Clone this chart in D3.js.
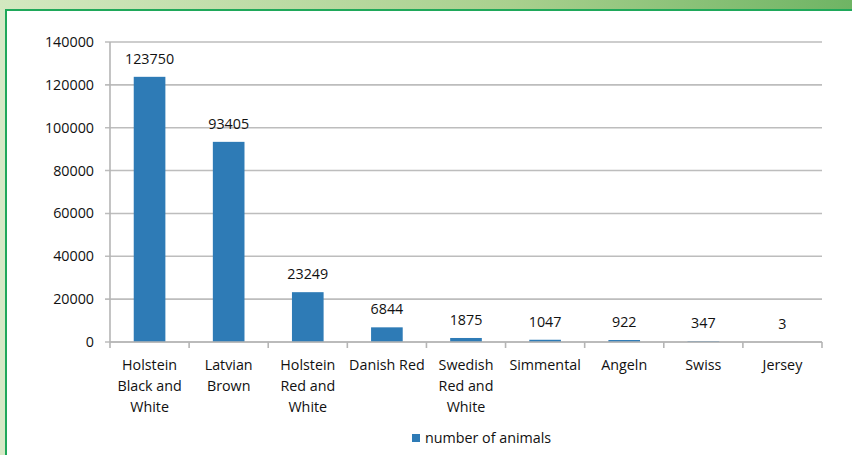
<!DOCTYPE html>
<html><head><meta charset="utf-8">
<script src="https://cdn.jsdelivr.net/npm/d3@7/dist/d3.min.js"></script>
<style>
html,body{margin:0;padding:0;background:#d6e9c6;}
svg{display:block;}
text{font-family:"Open Sans",sans-serif;fill:#111;}
</style></head>
<body>
<svg id="c" width="852" height="455"></svg>
<script>
const categories = [
  ["Holstein","Black and","White"],
  ["Latvian","Brown"],
  ["Holstein","Red and","White"],
  ["Danish Red"],
  ["Swedish","Red and","White"],
  ["Simmental"],
  ["Angeln"],
  ["Swiss"],
  ["Jersey"]
];
const values = [123750, 93405, 23249, 6844, 1875, 1047, 922, 347, 3];
const yTicks = [0, 20000, 40000, 60000, 80000, 100000, 120000, 140000];
const seriesName = "number of animals";

const svg = d3.select("#c");
const W = 852, H = 455;
const FS = "14.3px";

// frame
const defs = svg.append("defs");
const g1 = defs.append("linearGradient").attr("id","topg").attr("x1","0").attr("x2","1");
g1.append("stop").attr("offset","0").attr("stop-color","#d3e8c0");
g1.append("stop").attr("offset","0.6").attr("stop-color","#a9d08e");
g1.append("stop").attr("offset","1").attr("stop-color","#6fb464");
svg.append("rect").attr("x",0).attr("y",0).attr("width",W).attr("height",H).attr("fill","#d6e9c6");
svg.append("rect").attr("x",0).attr("y",0).attr("width",W).attr("height",10).attr("fill","url(#topg)");
svg.append("rect").attr("x",6).attr("y",10).attr("width",W).attr("height",H).attr("fill","#ffffff")
  .attr("stroke","#1fa85a").attr("stroke-width",2);

const x0 = 110, x1 = 822, yTop = 42, yBot = 342;
const x = d3.scaleBand().domain(d3.range(categories.length)).range([x0, x1])
  .paddingInner(0.6).paddingOuter(0.3);
const y = d3.scaleLinear().domain([0, 140000]).range([yBot, yTop]);

// gridlines
svg.append("g").selectAll("line").data(yTicks).join("line")
  .attr("x1", x0 - 5).attr("x2", x1)
  .attr("y1", d => y(d)).attr("y2", d => y(d))
  .attr("stroke", "#bdbdbd").attr("stroke-width", 1.6);

// y axis line
svg.append("line").attr("x1",x0).attr("x2",x0).attr("y1",yTop).attr("y2",yBot)
  .attr("stroke","#b5b5b5").attr("stroke-width",1.6);

// y labels
svg.append("g").selectAll("text").data(yTicks).join("text")
  .attr("x", 94).attr("y", d => y(d)).attr("dy","0.35em")
  .attr("text-anchor","end").attr("font-size",FS)
  .text(d => d);

// bars
svg.append("g").selectAll("rect").data(values).join("rect")
  .attr("x", (d,i) => x(i)).attr("width", x.bandwidth())
  .attr("y", d => y(d)).attr("height", d => yBot - y(d))
  .attr("fill", "#2e7bb6");

// x axis line + ticks
svg.append("line").attr("x1",x0).attr("x2",x1).attr("y1",yBot).attr("y2",yBot)
  .attr("stroke","#b5b5b5").attr("stroke-width",1.6);
const step = x.step();
svg.append("g").selectAll("line").data(d3.range(categories.length + 1)).join("line")
  .attr("x1", i => x0 + i*step).attr("x2", i => x0 + i*step)
  .attr("y1", yBot).attr("y2", yBot + 6)
  .attr("stroke","#b5b5b5").attr("stroke-width",1.6);

// value labels
svg.append("g").selectAll("text").data(values).join("text")
  .attr("x", (d,i) => x(i) + x.bandwidth()/2)
  .attr("y", d => y(d) - 13)
  .attr("text-anchor","middle").attr("font-size",FS)
  .text(d => d);

// category labels
const cg = svg.append("g").selectAll("text").data(categories).join("text")
  .attr("x", (d,i) => x(i) + x.bandwidth()/2)
  .attr("y", 370)
  .attr("text-anchor","middle").attr("font-size",FS);
cg.selectAll("tspan").data(d => d).join("tspan")
  .attr("x", function(){ return this.parentNode.getAttribute("x"); })
  .attr("dy", (d,j) => j === 0 ? 0 : 21)
  .text(d => d);

// legend
svg.append("rect").attr("x",412).attr("y",434).attr("width",8).attr("height",8).attr("fill","#2e7bb6");
svg.append("text").attr("x",425).attr("y",438).attr("dy","0.35em").attr("font-size",FS).text(seriesName);
</script>
</body></html>
